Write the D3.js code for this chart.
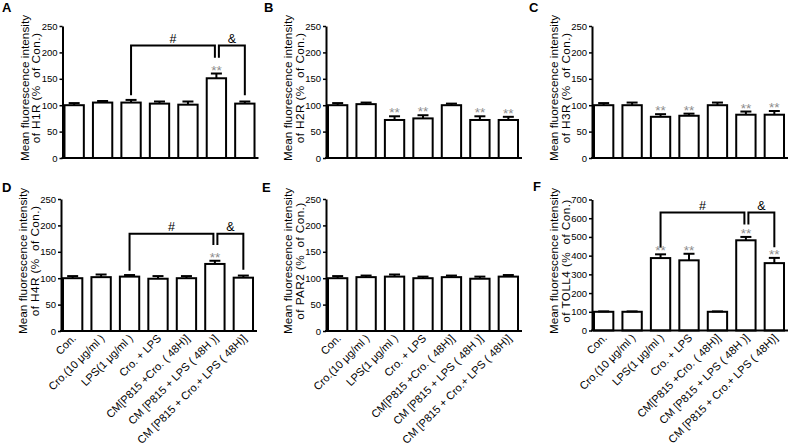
<!DOCTYPE html>
<html>
<head>
<meta charset="utf-8">
<script src="https://cdn.jsdelivr.net/npm/d3@7"></script>
<style>
    body { margin: 0; background: #fff; }
    text { font-family: Arial, "Liberation Sans", sans-serif; fill: #000; }
</style>
</head>
<body>
<svg id="fig" width="791" height="448"></svg>
<script>
// groups on the x axis (shared by all six panels)
var GROUPS = ["Con.", "Cro.(10 \u03bcg/ml )", "LPS(1 \u03bcg/ml )", "Cro. + LPS",
    "CM[P815 +Cro. ( 48H)]", "CM [P815 + LPS ( 48H )]", "CM [P815 + Cro.+ LPS ( 48H)]"];

// mean fluorescence intensity (% of Con.) and SEM
var H1R_MEAN = [100, 105, 105, 103, 101, 151, 103];
var H1R_ERR = [4, 3, 5, 4, 6, 9, 4];
var H1R_SIG = [0, 0, 0, 0, 0, 1, 0];

var H2R_MEAN = [100, 102, 72, 75, 100, 72, 72];
var H2R_ERR = [4, 3, 7, 6, 3, 7, 6];
var H2R_SIG = [0, 0, 1, 1, 0, 1, 1];

var H3R_MEAN = [100, 100, 78, 80, 100, 82, 82];
var H3R_ERR = [4, 5, 5, 4, 5, 6, 7];
var H3R_SIG = [0, 0, 1, 1, 0, 1, 1];

var H4R_MEAN = [100, 102, 103, 99, 100, 127, 101];
var H4R_ERR = [4, 5, 3, 5, 4, 6, 4];
var H4R_SIG = [0, 0, 0, 0, 0, 1, 0];

var PAR2_MEAN = [100, 102, 103, 100, 102, 99, 103];
var PAR2_ERR = [4, 3, 4, 3, 3, 4, 3];
var PAR2_SIG = [0, 0, 0, 0, 0, 0, 0];

var TOLL4_MEAN = [100, 100, 387, 375, 100, 482, 360];
var TOLL4_ERR = [2, 2, 20, 35, 2, 18, 28];
var TOLL4_SIG = [0, 0, 1, 1, 0, 1, 1];

// comparison brackets: group indices, bar height in data units, leg ends
var H1R_BRACKETS = [
    {a: 2, b: 5, top: 213, endA: 119, endB: 190, text: "#"},
    {a: 5, b: 6, top: 213, endA: 190, endB: 119, text: "&"}
];
var H4R_BRACKETS = [
    {a: 2, b: 5, top: 184, endA: 114, endB: 163, text: "#"},
    {a: 5, b: 6, top: 184, endA: 163, endB: 116, text: "&"}
];
var TOLL4_BRACKETS = [
    {a: 2, b: 5, top: 630, endA: 444, endB: 566, text: "#"},
    {a: 5, b: 6, top: 630, endA: 566, endB: 445, text: "&"}
];

var PANELS = [
    {letter: "A", name: "H1R", mean: H1R_MEAN, err: H1R_ERR, sig: H1R_SIG, brackets: H1R_BRACKETS,
        yMax: 250, yStep: 50, left: 62.5, bottom: 158, top: 26, letterX: 2, letterY: 12, xLabels: false},
    {letter: "B", name: "H2R", mean: H2R_MEAN, err: H2R_ERR, sig: H2R_SIG, brackets: [],
        yMax: 250, yStep: 50, left: 326, bottom: 158, top: 26, letterX: 264, letterY: 12, xLabels: false},
    {letter: "C", name: "H3R", mean: H3R_MEAN, err: H3R_ERR, sig: H3R_SIG, brackets: [],
        yMax: 250, yStep: 50, left: 592, bottom: 158, top: 26, letterX: 529, letterY: 12, xLabels: false},
    {letter: "D", name: "H4R", mean: H4R_MEAN, err: H4R_ERR, sig: H4R_SIG, brackets: H4R_BRACKETS,
        yMax: 250, yStep: 50, left: 61, bottom: 331, top: 199, letterX: 2, letterY: 192, xLabels: true},
    {letter: "E", name: "PAR2", mean: PAR2_MEAN, err: PAR2_ERR, sig: PAR2_SIG, brackets: [],
        yMax: 250, yStep: 50, left: 326, bottom: 331, top: 199, letterX: 262, letterY: 192, xLabels: true},
    {letter: "F", name: "TOLL4", mean: TOLL4_MEAN, err: TOLL4_ERR, sig: TOLL4_SIG, brackets: TOLL4_BRACKETS,
        yMax: 700, yStep: 100, left: 592, bottom: 330.5, top: 199.5, letterX: 533, letterY: 191, xLabels: true}
];

(function () {
    var svg = d3.select("#fig");
    var BAR_SPAN = 194;   // width covered by the band scale
    var AXIS_LEN = 196;   // x axis line runs a little past the last bar

    var _drawPanel = function (p) {
        var g = svg.append("g").attr("class", "panel_" + p.letter);

        var x = d3.scaleBand()
            .domain(d3.range(GROUPS.length))
            .range([p.left, p.left + BAR_SPAN])
            .paddingInner(0.32)
            .paddingOuter(0.07);
        var y = d3.scaleLinear().domain([0, p.yMax]).range([p.bottom, p.top]);
        var cx = function (i) { return x(i) + x.bandwidth() / 2; };
        var idx = d3.range(GROUPS.length);

        // panel letter
        g.append("text")
            .attr("x", p.letterX).attr("y", p.letterY)
            .style("font-size", "13px").style("font-weight", "bold")
            .text(p.letter);

        // y axis
        var yAxis = d3.axisLeft(y)
            .tickValues(d3.range(0, p.yMax + 1, p.yStep))
            .tickSizeInner(3).tickSizeOuter(0).tickPadding(2);
        var ya = g.append("g").attr("transform", "translate(" + p.left + ",0)").call(yAxis);
        ya.select(".domain").attr("stroke-width", 2);
        ya.selectAll(".tick line").attr("stroke-width", 1.5);
        ya.selectAll(".tick text")
            .style("font-size", "9.5px")
            .style("font-family", "Arial, 'Liberation Sans', sans-serif");

        // y label, two lines
        var lbl = g.append("text")
            .attr("transform", "translate(" + (p.left - 34) + "," + ((p.top + p.bottom) / 2 - 4) + ") rotate(-90)")
            .attr("text-anchor", "middle")
            .style("font-size", "11.8px")
            .style("white-space", "pre");
        lbl.append("tspan").attr("x", 0).attr("dy", 0).text("Mean fluorescence intensity");
        lbl.append("tspan").attr("x", 0).attr("dy", 11.5)
            .style("letter-spacing", "0.4px")
            .text("of " + p.name + " (%  of Con.)");

        // bars
        g.selectAll("rect.bar").data(idx).enter().append("rect")
            .attr("class", "bar")
            .attr("x", function (i) { return x(i); })
            .attr("y", function (i) { return y(p.mean[i]); })
            .attr("width", x.bandwidth())
            .attr("height", function (i) { return p.bottom - y(p.mean[i]); })
            .attr("fill", "#fff").attr("stroke", "#000").attr("stroke-width", 2);

        // error bars (upper whisker only)
        var errTop = function (i) { return y(p.mean[i] + p.err[i]); };
        var eg = g.selectAll("g.err").data(idx).enter().append("g").attr("class", "err");
        eg.append("line")
            .attr("x1", cx).attr("x2", cx)
            .attr("y1", function (i) { return y(p.mean[i]); })
            .attr("y2", errTop)
            .attr("stroke", "#000").attr("stroke-width", 2);
        eg.append("line")
            .attr("x1", function (i) { return cx(i) - 5.5; })
            .attr("x2", function (i) { return cx(i) + 5.5; })
            .attr("y1", errTop).attr("y2", errTop)
            .attr("stroke", "#000").attr("stroke-width", 2);

        // significance stars
        g.selectAll("text.sig").data(idx.filter(function (i) { return p.sig[i]; }))
            .enter().append("text").attr("class", "sig")
            .attr("x", cx)
            .attr("y", function (i) { return errTop(i) + 1; })
            .attr("text-anchor", "middle")
            .style("font-size", "13.5px").style("fill", "#8c8c8c")
            .text("**");

        // x axis line
        g.append("line")
            .attr("x1", p.left - 1).attr("x2", p.left + AXIS_LEN)
            .attr("y1", p.bottom).attr("y2", p.bottom)
            .attr("stroke", "#000").attr("stroke-width", 2);

        // brackets
        p.brackets.forEach(function (b, k) {
            var xa = cx(b.a) + (k > 0 ? 2.5 : 0);
            var xb = cx(b.b) - (k === 0 ? 1.5 : 0);
            g.append("path")
                .attr("d", "M" + xa + "," + y(b.endA) + "V" + y(b.top) + "H" + xb + "V" + y(b.endB))
                .attr("fill", "none").attr("stroke", "#000").attr("stroke-width", 2);
            g.append("text")
                .attr("x", (xa + xb) / 2).attr("y", y(b.top) - 3)
                .attr("text-anchor", "middle")
                .style("font-size", "12.5px")
                .text(b.text);
        });

        // x labels (bottom row only)
        if (p.xLabels) {
            g.selectAll("text.xl").data(idx).enter().append("text")
                .attr("class", "xl")
                .attr("transform", function (i) {
                    return "translate(" + (cx(i) + 4) + "," + (p.bottom + 8) + ") rotate(-45)";
                })
                .attr("text-anchor", "end")
                .style("font-size", "11px")
                .text(function (i) { return GROUPS[i]; });
        }
    };

    PANELS.forEach(function (p) { _drawPanel(p); });
})();
</script>
</body>
</html>
